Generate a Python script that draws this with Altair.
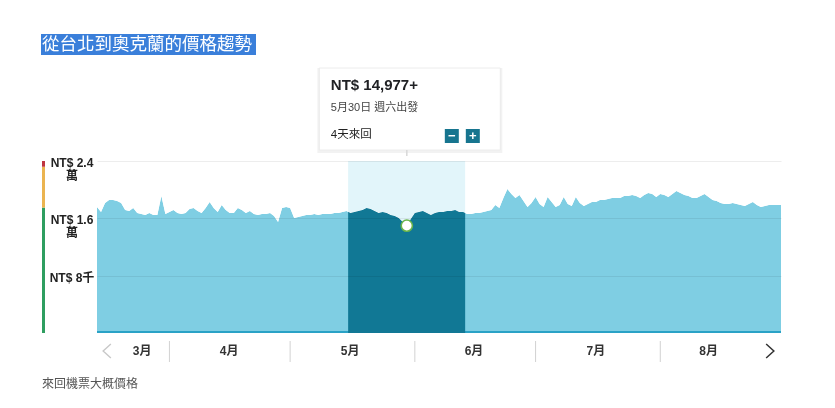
import altair as alt
import pandas as pd

# Daily lowest round-trip fare (NT$), Taipei -> Auckland, from 14 March to 31 August
start_date = "2020-03-14"
mar_prices = [17580, 16880, 18140, 18550, 18550, 18410, 18140, 17160, 17020, 17440,
              16740, 16600, 16460, 16740, 16460, 16460, 19110, 16600]
apr_prices = [16880, 17160, 16740, 16600, 16740, 17300, 17440, 17020, 16740, 17440,
              18280, 17440, 16880, 17860, 17160, 16740, 16740, 17440, 17160, 16740,
              17020, 16600, 16460, 16600, 16600, 16740, 16320, 15490, 17440, 17580]
may_prices = [17440, 16040, 16180, 16320, 16460, 16460, 16600, 16460, 16600, 16600,
              16600, 16740, 16740, 16880, 17020, 16740, 16880, 17020, 17160, 17440,
              17300, 17020, 16740, 16880, 16740, 16460, 16320, 16040, 15490, 14977,
              15900]
jun_prices = [16740, 16880, 17020, 16740, 16460, 16740, 16880, 16880, 17020, 17020,
              17160, 16880, 16880, 16600, 16600, 16740, 16740, 16880, 17020, 17160,
              17860, 17440, 18830, 20090, 19390, 18830, 19250, 18410, 17580, 18140]
jul_prices = [18970, 18000, 17580, 18970, 18280, 17580, 17860, 18970, 18000, 17720,
              18970, 18140, 17720, 18000, 18280, 18280, 18550, 18550, 18690, 18830,
              18830, 18830, 19110, 19110, 19250, 19110, 18830, 19250, 19530, 19390,
              18970]
aug_prices = [19390, 19250, 18970, 19390, 19810, 19530, 19250, 19110, 18830, 18830,
              19110, 19390, 18970, 18550, 18410, 18140, 18000, 18000, 18140, 18000,
              17860, 17720, 18000, 18280, 17860, 17580, 17720, 17860, 17860, 17860,
              17860]

prices = mar_prices + apr_prices + may_prices + jun_prices + jul_prices + aug_prices
dates = pd.date_range(start_date, periods=len(prices), freq="D")
fares = pd.DataFrame({"date": dates.strftime("%Y-%m-%dT%H:%M:%S"), "price": prices})

# Selected departure and the travel window around it
selected_day = pd.Timestamp("2020-05-30")
trip_days = 4
window_start = "2020-05-15T10:00:00"
window_end = "2020-06-13T12:00:00"
selected_key = selected_day.strftime("%Y-%m-%dT%H:%M:%S")
selected_price = int(fares.loc[fares["date"] == selected_key, "price"].iloc[0])
weekdays = ["一", "二", "三", "四", "五", "六", "日"]

# Price axis
y_max = 24000
y_ticks = [8000, 16000, 24000]
y_tick_labels = ["NT$ 8千", "NT$ 1.6\n萬", "NT$ 2.4\n萬"]

# Price level bands on the left edge
level_lo = [0, 17500, 23200]
level_hi = [17500, 23200, 24000]
level_colors = ["#2f9e60", "#ebb450", "#bf3540"]

# Month strip under the chart
month_names = ["3月", "4月", "5月", "6月", "7月", "8月"]
month_label_at = ["2020-03-25T05:00:00", "2020-04-15T20:00:00", "2020-05-15T22:00:00",
                  "2020-06-15T17:00:00", "2020-07-16T00:00:00", "2020-08-13T00:00:00"]
month_starts = ["2020-04-01T00:00:00", "2020-05-01T00:00:00", "2020-06-01T00:00:00",
                "2020-07-01T00:00:00", "2020-08-01T00:00:00"]

title_text = "從台北到奧克蘭的價格趨勢"
caption_text = "來回機票大概價格"

W, H = 684, 172
FONT = "Liberation Sans, Noto Sans CJK TC"
CJK = "Noto Sans CJK TC"
AREA = "#7fcee3"
DARK = "#117895"
LIGHT_TOP = "#e2f5fa"

x_scale = alt.Scale(domain=[alt.DateTime(year=2020, month=3, date=14),
                            alt.DateTime(year=2020, month=8, date=31)], nice=False)
y_scale = alt.Scale(domain=[0, y_max], nice=False)
y_axis = alt.Axis(values=y_ticks, grid=True, labels=False, ticks=False, domain=False,
                  title=None, gridColor="#000000", gridOpacity=0.07, zindex=1)

one = pd.DataFrame({"k": [0]})
window = pd.DataFrame({"start": [window_start], "end": [window_end]})
pick = pd.DataFrame({"date": [selected_key], "price": [selected_price]})

area = alt.Chart(fares).mark_area(color=AREA, opacity=1).encode(
    x=alt.X("date:T", scale=x_scale, axis=None),
    y=alt.Y("price:Q", scale=y_scale, axis=y_axis),
)

baseline = alt.Chart(one).mark_rule(color="#2aa2c6", strokeWidth=2).encode(
    x=alt.value(0), x2=alt.value(W), y=alt.value(H - 1)
)

window_dark = alt.Chart(window).mark_rect(color=DARK, opacity=1).encode(
    x=alt.X("start:T", scale=x_scale, axis=None), x2="end",
    y=alt.value(0), y2=alt.value(H),
)

# white fill between the fare line and the top edge, so the window is dark only below the line
above_line = alt.Chart(fares).mark_area(color="white", opacity=1).encode(
    x=alt.X("date:T", scale=x_scale, axis=None),
    y=alt.Y("price:Q", scale=y_scale, axis=y_axis, stack=None),
    y2=alt.Y2(datum=y_max),
)

window_light = alt.Chart(window).mark_rect(color=LIGHT_TOP, opacity=1, blend="darken").encode(
    x=alt.X("start:T", scale=x_scale, axis=None), x2="end",
    y=alt.value(0), y2=alt.value(H),
)

marker = alt.Chart(pick).mark_point(
    filled=True, fill="white", stroke="#6ab54a", strokeWidth=1.6, size=125, opacity=1
).encode(
    x=alt.X("date:T", scale=x_scale, axis=None),
    y=alt.Y("price:Q", scale=y_scale, axis=y_axis),
)

y_labels = alt.Chart(pd.DataFrame({"value": y_ticks, "label": y_tick_labels})).mark_text(
    align="center", baseline="top", dy=-3, lineBreak="\n", lineHeight=13,
    fontSize=12, fontWeight="bold", color="#222", font=FONT,
).encode(
    x=alt.value(-25),
    y=alt.Y("value:Q", scale=y_scale, axis=y_axis),
    text="label:N",
)

levels = alt.Chart(pd.DataFrame({"lo": level_lo, "hi": level_hi, "color": level_colors})).mark_rect().encode(
    x=alt.value(-55), x2=alt.value(-52),
    y=alt.Y("lo:Q", scale=y_scale, axis=y_axis), y2="hi:Q",
    color=alt.Color("color:N", scale=None),
)

month_labels = alt.Chart(pd.DataFrame({"at": month_label_at, "name": month_names})).mark_text(
    fontSize=12, fontWeight="bold", color="#333", font=FONT, baseline="middle"
).encode(
    x=alt.X("at:T", scale=x_scale, axis=None), y=alt.value(H + 18), text="name:N"
)

month_seps = alt.Chart(pd.DataFrame({"start": month_starts})).mark_rule(color="#d2d2d2").encode(
    x=alt.X("start:T", scale=x_scale, axis=None), y=alt.value(H + 8), y2=alt.value(H + 29)
)

left_arrow = alt.Chart(one).mark_point(
    shape="M 0.55 -1 L -0.55 0 L 0.55 1", filled=False, stroke="#c8c8c8",
    strokeWidth=1.4, size=196, opacity=1
).encode(x=alt.value(10), y=alt.value(H + 18))

right_arrow = alt.Chart(one).mark_point(
    shape="M -0.55 -1 L 0.55 0 L -0.55 1", filled=False, stroke="#333",
    strokeWidth=1.5, size=196, opacity=1
).encode(x=alt.value(W - 11), y=alt.value(H + 18))

# Fare card above the selected day
pick_x = alt.X("date:T", scale=x_scale, axis=None)
card_shadow = alt.Chart(pick).mark_rect(width=185, color="#000", opacity=0.05, xOffset=3).encode(
    x=pick_x, y=alt.value(-93), y2=alt.value(-8)
)
card = alt.Chart(pick).mark_rect(width=181, color="white", stroke="#ececec", strokeWidth=1,
                                 opacity=1, xOffset=3).encode(
    x=pick_x, y=alt.value(-93), y2=alt.value(-11)
)
card_notch = alt.Chart(pick).mark_rule(color="#d8d8d8", strokeWidth=1.5).encode(
    x=pick_x, y=alt.value(-11), y2=alt.value(-5)
)

fare_line = f"NT$ {selected_price:,}+"
date_line = f"{selected_day.month}月{selected_day.day}日 週{weekdays[selected_day.weekday()]}出發"
trip_line = f"{trip_days}天來回"


def card_text(text, y, size, weight, color):
    return alt.Chart(pick).mark_text(
        text=text, align="left", baseline="middle", dx=-76, font=FONT,
        fontSize=size, fontWeight=weight, color=color,
    ).encode(x=pick_x, y=alt.value(y))


def card_button(sign, offset):
    box = alt.Chart(pick).mark_square(size=196, color="#17758f", opacity=1, xOffset=offset).encode(
        x=pick_x, y=alt.value(-25)
    )
    glyph = alt.Chart(pick).mark_text(
        text=sign, color="white", fontSize=13, fontWeight="bold", font=FONT,
        baseline="middle", xOffset=offset,
    ).encode(x=pick_x, y=alt.value(-25))
    return box + glyph


fare_text = card_text(fare_line, -76, 15, "bold", "#202124")
date_text = card_text(date_line, -53, 11, "normal", "#444444")
trip_text = card_text(trip_line, -26, 11.5, "normal", "#222222")
minus_button = card_button("−", 45)
plus_button = card_button("+", 66)

title_box = alt.Chart(one).mark_rect(color="#3a7fda").encode(
    x=alt.value(-56), x2=alt.value(159), y=alt.value(-127), y2=alt.value(-106)
)
title = alt.Chart(one).mark_text(
    text=title_text, align="left", baseline="middle", fontSize=17.5, color="white", font=CJK
).encode(x=alt.value(-55), y=alt.value(-116))

caption = alt.Chart(one).mark_text(
    text=caption_text, align="left", baseline="middle", fontSize=12, color="#555", font=CJK
).encode(x=alt.value(-55), y=alt.value(223))

chart = alt.layer(
    area, baseline, window_dark, above_line, window_light, marker,
    y_labels, levels, month_seps, month_labels, left_arrow, right_arrow,
    card_shadow, card, card_notch, fare_text, date_text, trip_text,
    minus_button, plus_button, title_box, title, caption,
).properties(
    width=W, height=H, autosize="none",
    padding={"left": 97, "top": 161, "right": 54, "bottom": 75},
    background="white",
).configure_view(stroke=None)

chart.save("out.html", embed_options={"renderer": "svg", "actions": False})
